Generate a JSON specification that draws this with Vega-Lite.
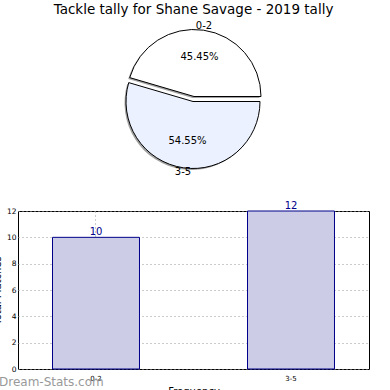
{
  "$schema": "https://vega.github.io/schema/vega-lite/v6.json",
  "padding": {"left": -9, "top": 3, "right": 0, "bottom": 0},
  "background": "white",
  "config": {
    "font": "DejaVu Sans",
    "view": {"stroke": null}
  },
  "title": {"text": "Tackle tally for Shane Savage - 2019 tally", "anchor": "middle", "frame": "group", "fontSize": 13.5, "fontWeight": "normal", "font": "DejaVu Sans", "color": "black", "offset": 4},
  "bounds": "flush",
  "spacing": 35,
  "datasets": {
    "tally": [
      {"range": "0-2", "count": 10, "pct": "45.45%"},
      {"range": "3-5", "count": 12, "pct": "54.55%"}
    ]
  },
  "vconcat": [
    {
      "width": 351,
      "height": 154,
      "data": {"name": "tally"},
      "transform": [
        {"stack": "count", "groupby": [], "as": ["t0", "t1"], "sort": [{"field": "range", "order": "descending"}]}
      ],
      "layer": [
        {
          "transform": [{"filter": "datum.range == '0-2'"}],
          "mark": {"type": "arc", "outerRadius": 67, "fill": "#444444", "opacity": 0.5, "xOffset": -1, "yOffset": -1, "stroke": null},
          "encoding": {
            "theta": {"field": "t0", "type": "quantitative", "scale": {"range": [1.5708, 7.854]}},
            "theta2": {"field": "t1"}
          }
        },
        {
          "transform": [{"filter": "datum.range == '3-5'"}],
          "mark": {"type": "arc", "outerRadius": 67, "fill": "#444444", "opacity": 0.5, "xOffset": -2, "yOffset": 4, "stroke": null},
          "encoding": {
            "theta": {"field": "t0", "type": "quantitative"},
            "theta2": {"field": "t1"}
          }
        },
        {
          "transform": [{"filter": "datum.range == '0-2'"}],
          "mark": {"type": "arc", "outerRadius": 67, "stroke": "black", "strokeWidth": 1, "yOffset": -2.5, "xOffset": 0.5},
          "encoding": {
            "theta": {"field": "t0", "type": "quantitative"},
            "theta2": {"field": "t1"},
            "color": {"field": "range", "type": "nominal", "scale": {"domain": ["0-2", "3-5"], "range": ["#ffffff", "#ebf1fe"]}, "legend": null}
          }
        },
        {
          "transform": [{"filter": "datum.range == '3-5'"}],
          "mark": {"type": "arc", "outerRadius": 67, "stroke": "black", "strokeWidth": 1, "yOffset": 2.5, "xOffset": -0.5},
          "encoding": {
            "theta": {"field": "t0", "type": "quantitative"},
            "theta2": {"field": "t1"},
            "color": {"field": "range", "type": "nominal", "scale": {"domain": ["0-2", "3-5"], "range": ["#ffffff", "#ebf1fe"]}, "legend": null}
          }
        },
        {
          "mark": {"type": "text", "radius": 42, "fontSize": 10, "color": "black"},
          "encoding": {
            "theta": {"field": "count", "type": "quantitative", "stack": true},
            "order": {"field": "range", "type": "nominal", "sort": "descending"},
            "text": {"field": "pct"}
          }
        },
        {
          "mark": {"type": "text", "radius": 74, "fontSize": 10, "color": "black"},
          "encoding": {
            "theta": {"field": "count", "type": "quantitative", "stack": true},
            "order": {"field": "range", "type": "nominal", "sort": "descending"},
            "text": {"field": "range"}
          }
        }
      ]
    },
    {
      "width": 351,
      "height": 158,
      "data": {"name": "tally"},
      "view": {"stroke": "black", "strokeWidth": 1},
      "title": {"text": "Dream-Stats.com", "orient": "bottom", "anchor": "start", "frame": "group", "fontSize": 12, "fontWeight": "normal", "color": "#999999", "dx": -19, "offset": -19},
      "encoding": {
        "x": {
          "field": "range", "type": "nominal", "sort": null,
          "scale": {"paddingInner": 0.554, "paddingOuter": 0.177},
          "axis": {"title": "Frequency", "titleFontSize": 10, "titleFontWeight": "normal", "titleColor": "black", "titlePadding": 5, "labelAngle": 0, "labelFontSize": 7, "labelColor": "black", "bandPosition": 0.5, "grid": true, "gridDash": [1, 3], "gridColor": "#999999", "ticks": false, "labelPadding": 5, "domain": false}
        }
      },
      "layer": [
        {
          "mark": {"type": "bar", "fill": "#cccce6", "stroke": "#00008b", "strokeWidth": 1},
          "encoding": {
            "y": {
              "field": "count", "type": "quantitative",
              "scale": {"domain": [0, 12], "nice": false},
              "axis": {"title": "Total Matches", "titleFontSize": 10, "titleFontWeight": "normal", "titleColor": "black", "values": [0, 2, 4, 6, 8, 10, 12], "tickCount": 7, "labelOverlap": false, "labelFontSize": 7.5, "labelColor": "black", "grid": true, "gridDash": [1, 3], "gridColor": "#999999", "ticks": false, "labelPadding": 2, "titlePadding": 4, "domain": false}
            }
          }
        },
        {
          "mark": {"type": "text", "dy": -5, "fontSize": 10, "color": "#00008b"},
          "encoding": {
            "y": {"field": "count", "type": "quantitative"},
            "text": {"field": "count"}
          }
        }
      ]
    }
  ]
}
